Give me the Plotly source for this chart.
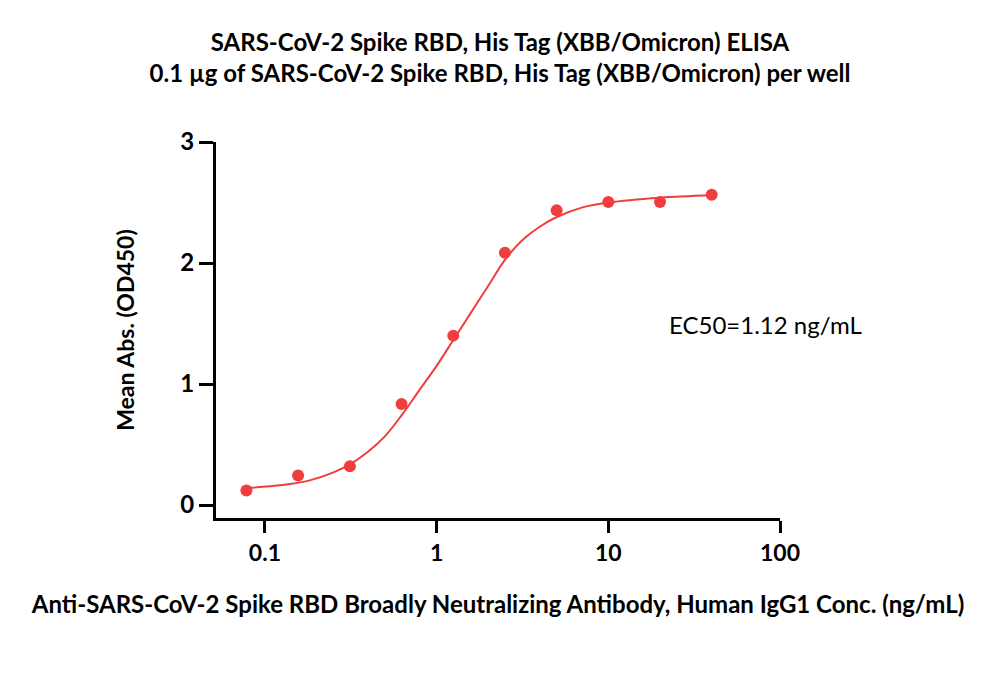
import plotly.graph_objects as go

# Measured data
conc = [0.078, 0.156, 0.3125, 0.625, 1.25, 2.5, 5, 10, 20, 40]
od450 = [0.12, 0.245, 0.32, 0.835, 1.40, 2.085, 2.435, 2.505, 2.505, 2.565]

# Fitted curve
fit_x = [0.078, 0.126, 0.178, 0.251, 0.316, 0.398, 0.501, 0.631, 0.794, 1.0,
         1.259, 1.585, 1.995, 2.512, 3.162, 3.981, 5.012, 7.079, 10, 19.95, 39.8]
fit_y = [0.14, 0.165, 0.20, 0.27, 0.34, 0.44, 0.57, 0.75, 0.95, 1.15,
         1.37, 1.59, 1.81, 2.03, 2.19, 2.30, 2.38, 2.46, 2.50, 2.54, 2.56]

x_tickvals = [0.1, 1, 10, 100]
x_ticktext = ["0.1", "1", "10", "100"]
y_tickvals = [0, 1, 2, 3]

title_text = ("SARS-CoV-2 Spike RBD, His Tag (XBB/Omicron) ELISA<br>"
              "0.1 µg of SARS-CoV-2 Spike RBD, His Tag (XBB/Omicron) per well")
x_title = "Anti-SARS-CoV-2 Spike RBD Broadly Neutralizing Antibody, Human IgG1 Conc. (ng/mL)"
y_title = "Mean Abs. (OD450)"
ec50_text = "EC50=1.12 ng/mL"

RED = "rgb(240,62,62)"
FONT = "Lato"

fig = go.Figure()
fig.add_trace(go.Scatter(x=fit_x, y=fit_y, mode="lines",
                         line=dict(color=RED, width=2, shape="spline", smoothing=1.0),
                         showlegend=False, hoverinfo="skip"))
fig.add_trace(go.Scatter(x=conc, y=od450, mode="markers",
                         marker=dict(color=RED, size=12),
                         showlegend=False))

fig.add_annotation(x=1.341, y=1.49, xref="x", yref="y", text=ec50_text,
                   showarrow=False, xanchor="left", yanchor="middle",
                   font=dict(family=FONT, size=24, color="black"))

fig.update_layout(
    width=1000, height=677,
    margin=dict(l=216, r=220, t=142, b=159),
    paper_bgcolor="white", plot_bgcolor="white",
    font=dict(family=FONT, color="black"),
    title=dict(text=title_text, x=0.5, xanchor="center", y=0.925, yanchor="top",
               font=dict(family=FONT, size=24, color="black", weight="bold")),
    xaxis=dict(type="log", range=[-1.285, 2.0], showgrid=False, zeroline=False,
               showline=True, linewidth=3, linecolor="black",
               ticks="outside", ticklen=12, tickwidth=3, tickcolor="black",
               tickvals=x_tickvals, ticktext=x_ticktext,
               tickfont=dict(family=FONT, size=23, color="black", weight="bold"),
               title=dict(text=x_title, standoff=32,
                          font=dict(family=FONT, size=24, color="black", weight="bold"))),
    yaxis=dict(range=[-0.107, 3.0], showgrid=False, zeroline=False,
               showline=True, linewidth=3, linecolor="black",
               ticks="outside", ticklen=14, tickwidth=3, tickcolor="black",
               tickvals=y_tickvals,
               tickfont=dict(family=FONT, size=24, color="black", weight="bold"),
               title=dict(text=y_title, standoff=40,
                          font=dict(family=FONT, size=23, color="black", weight="bold"))),
)

fig.write_html("out.html")
